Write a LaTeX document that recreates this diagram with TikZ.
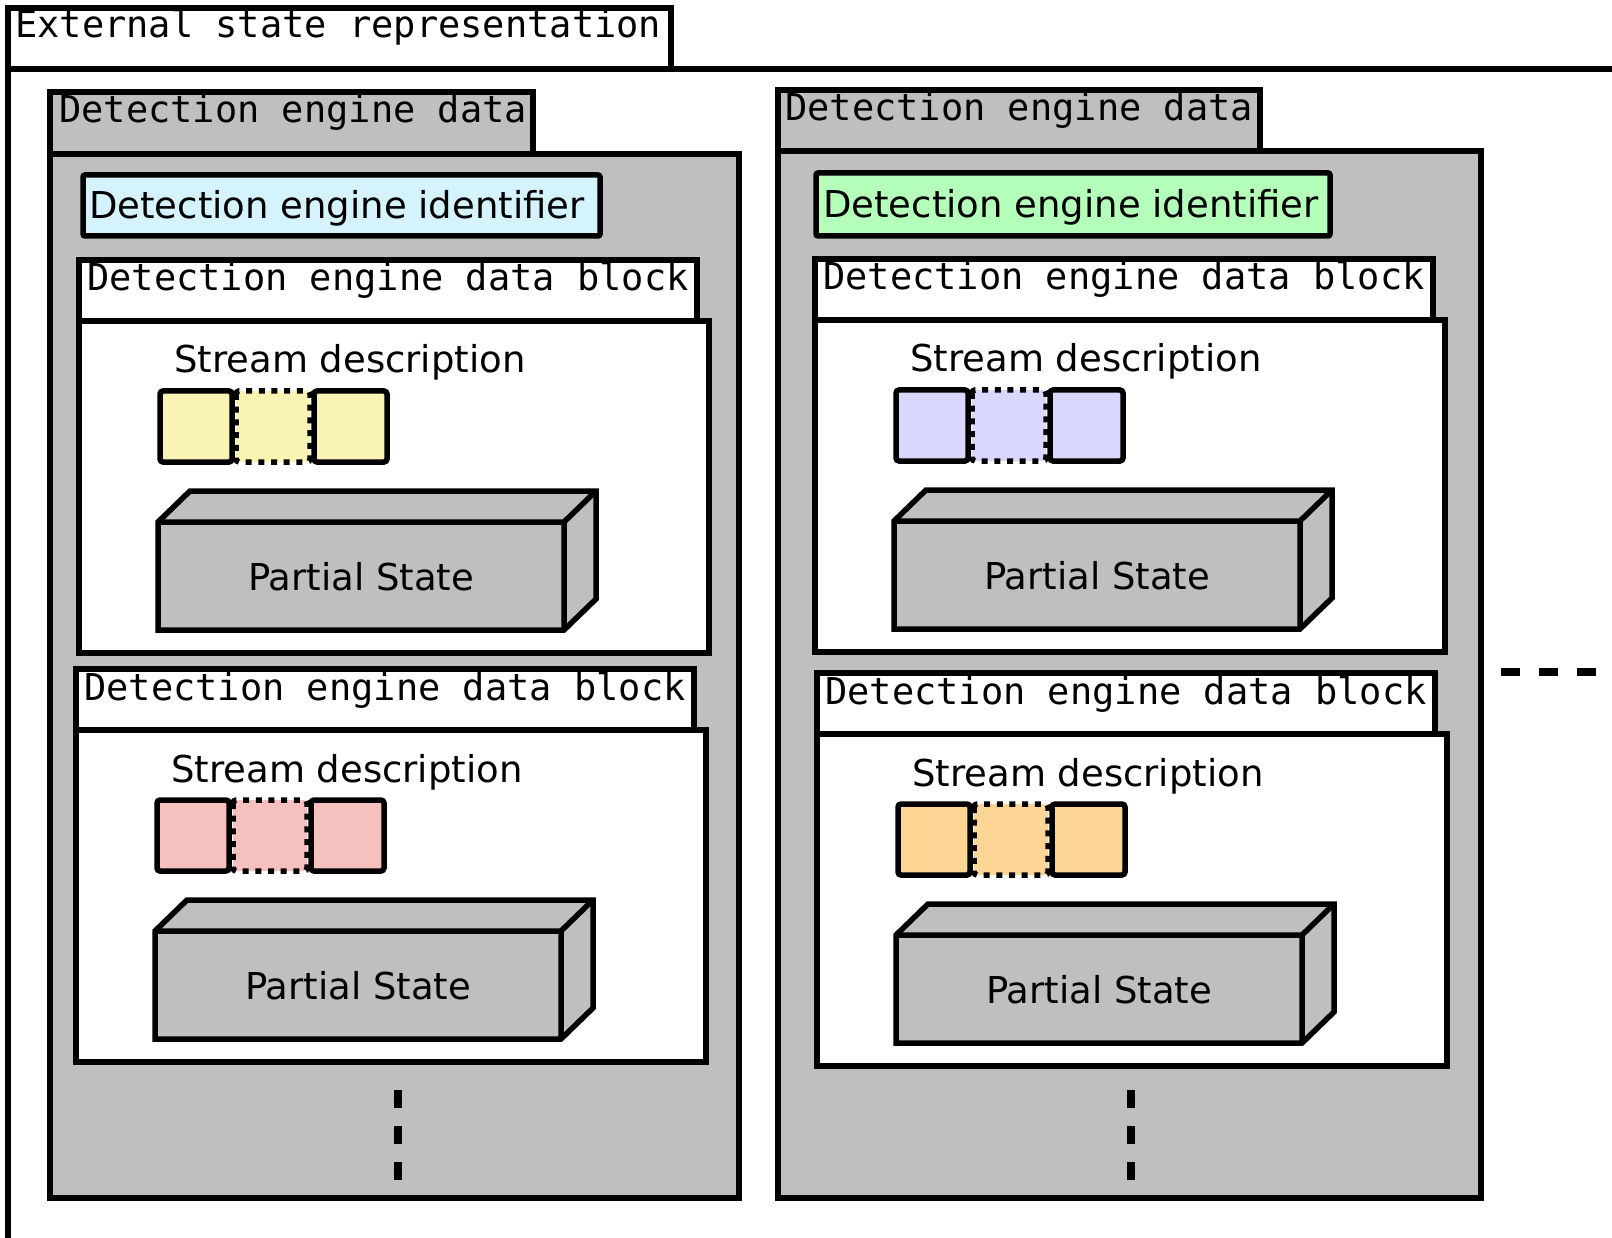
\documentclass[tikz,border=0pt]{standalone}
\usepackage{fontspec}
\setmainfont{DejaVu Sans}
\newfontfamily\monof{DejaVu Sans Mono}
\definecolor{pgray}{HTML}{BFBFBF}
\definecolor{idcyan}{HTML}{D5F3FC}
\definecolor{idgreen}{HTML}{B4FFB9}
\definecolor{syellow}{HTML}{F9F4B4}
\definecolor{spink}{HTML}{F6C0BE}
\definecolor{slav}{HTML}{DAD7FD}
\definecolor{sorange}{HTML}{FDD696}
\tikzset{
  ln/.style={line width=5.5pt, line join=miter},
  monolbl/.style={anchor=base west, inner sep=0pt, font=\monof\fontsize{37}{44}\selectfont},
  sanslbl/.style={inner sep=0pt, font=\fontsize{37}{44}\selectfont},
  sbox/.style={line width=5.5pt, rounded corners=3pt},
  dbox/.style={line width=5.5pt, dash pattern=on 6pt off 6.7pt, rounded corners=3pt},
  dotline/.style={line width=8pt, dash pattern=on 18pt off 18pt},
  hdotline/.style={line width=8pt, dash pattern=on 19pt off 19pt},
}
\newcommand{\dblock}[4]{%
\begin{scope}[shift={(#2,#3)}]
  \draw[ln, fill=white] (0,-61) rectangle (618,0);
  \node[monolbl] (#1tab) at (8,-30) {Detection engine data block};
  \draw[ln, fill=white] (0,0) rectangle (630,332);
  \node[sanslbl, anchor=base west] (#1sd) at (95,52) {Stream description};
  \draw[dbox, fill=#4] (157,70) rectangle (231,141);
  \draw[sbox, fill=#4] (81,70) rectangle (153,141);
  \draw[sbox, fill=#4] (235,70) rectangle (308,141);
  \draw[ln, fill=pgray] (79,201) -- (111,170) -- (517,170) -- (517,278) -- (485,309) -- (79,309) -- cycle;
  \draw[ln] (79,201) -- (485,201) -- (517,170) (485,201) -- (485,309);
  \node[sanslbl, anchor=base] (#1ps) at (282,269) {Partial State};
\end{scope}}
\begin{document}
\begin{tikzpicture}[x=1pt, y=-1pt]
  \useasboundingbox (0,0) rectangle (1612,1238);
  \clip (0,0) rectangle (1612,1238);
  % outer package
  \draw[ln, fill=white] (8,8) rectangle (671,69);
  \node[monolbl] (outer) at (15,38) {External state representation};
  \draw[ln] (8,69) -- (1620,69);
  \draw[ln] (8,8) -- (8,1245);
  % left package
  \draw[ln, fill=pgray] (50,92) rectangle (533,154);
  \draw[ln, fill=pgray] (50,154) rectangle (739,1198);
  \node[monolbl] (lpk) at (59,123) {Detection engine data};
  \draw[ln, fill=idcyan, rounded corners=2pt] (83,175) rectangle (600,236);
  \node[sanslbl, anchor=base west] (lid) at (89,219) {Detection engine identifier};
  \dblock{la}{79}{321}{syellow}
  \dblock{lb}{76}{730}{spink}
  \draw[dotline] (398,1090) -- (398,1182);
  % right package
  \draw[ln, fill=pgray] (778,90) rectangle (1260,151);
  \draw[ln, fill=pgray] (778,151) rectangle (1481,1198);
  \node[monolbl] (rpk) at (785,121) {Detection engine data};
  \draw[ln, fill=idgreen, rounded corners=2pt] (816,173) rectangle (1330,236);
  \node[sanslbl, anchor=base west] (rid) at (823,218) {Detection engine identifier};
  \dblock{ra}{815}{320}{slav}
  \dblock{rb}{817}{734}{sorange}
  \draw[dotline] (1131,1090) -- (1131,1182);
  \draw[hdotline] (1501,672) -- (1600,672);
\end{tikzpicture}
\end{document}
